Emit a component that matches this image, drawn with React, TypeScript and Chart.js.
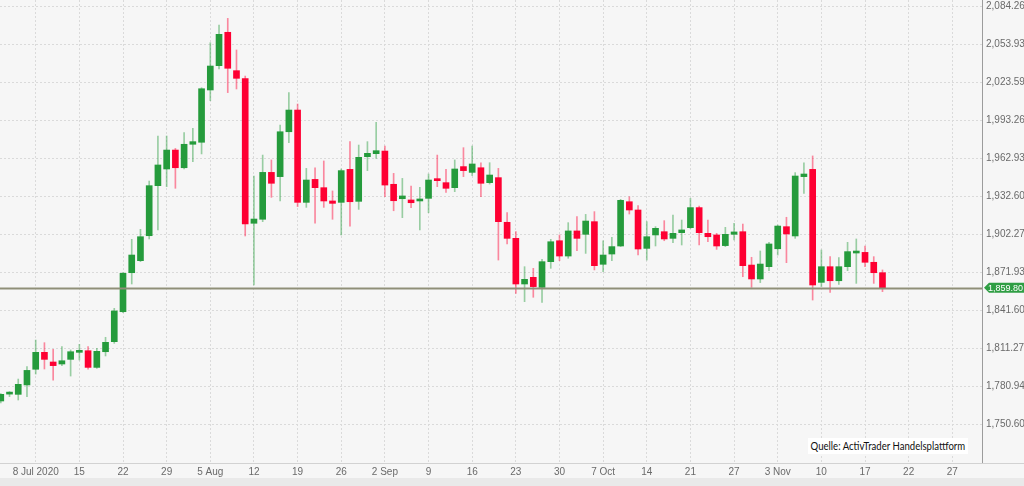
import React, { useEffect, useRef } from 'react';
import { Chart, registerables } from 'chart.js';

Chart.register(...registerables);

// Trading-day index of the first labelled tick (8 Jul 2020) and spacing of weekly ticks
const tickLabels = ['8 Jul 2020', '15', '22', '29', '5 Aug', '12', '19', '26', '2 Sep', '9', '16', '23', '30', '7 Oct', '14', '21', '27', '3 Nov', '10', '17', '22', '27'];
const firstTickIndex = 4;
const tickStep = 5;

const yTicks = [2084.26, 2053.93, 2023.59, 1993.26, 1962.93, 1932.6, 1902.27, 1871.93, 1841.6, 1811.27, 1780.94, 1750.6];

const opens = [
  1769.5, 1775.0, 1774.8, 1782.3, 1794.8, 1808.3, 1800.6, 1799.0, 1802.7, 1808.3,
  1809.6, 1796.3, 1808.8, 1816.8, 1840.7, 1871.8, 1881.4, 1901.3, 1941.2, 1954.5,
  1969.6, 1955.5, 1974.2, 1975.8, 2017.5, 2036.9, 2063.5, 2032.9, 2026.5, 1911.2,
  1914.4, 1951.8, 1948.4, 1984.2, 2001.5, 1927.9, 1946.2, 1939.6, 1929.0, 1927.9,
  1954.2, 1928.7, 1964.3, 1966.7, 1968.8, 1942.3, 1930.8, 1929.8, 1929.0, 1931.1,
  1946.2, 1943.6, 1939.6, 1956.4, 1951.8, 1955.5, 1943.6, 1947.6, 1912.0, 1899.2,
  1862.8, 1868.1, 1860.1, 1880.6, 1897.3, 1885.1, 1905.1, 1902.4, 1912.5, 1878.5,
  1886.7, 1893.1, 1928.4, 1921.8, 1891.2, 1901.9, 1904.5, 1899.2, 1903.7, 1907.7,
  1923.7, 1903.2, 1901.9, 1893.4, 1902.4, 1904.5, 1877.9, 1866.8, 1876.6, 1890.9,
  1908.5, 1901.1, 1948.4, 1954.2, 1864.1, 1876.6, 1865.4, 1876.6, 1887.5, 1888.0,
  1880.1, 1871.8,
];
const highs = [
  1775.5, 1777.0, 1787.0, 1797.0, 1818.1, 1816.0, 1810.7, 1812.8, 1810.2, 1814.7,
  1812.8, 1811.5, 1820.3, 1843.4, 1872.0, 1898.4, 1906.4, 1944.9, 1980.8, 1980.8,
  1970.9, 1983.5, 1986.9, 2019.3, 2055.2, 2069.3, 2074.6, 2049.4, 2028.6, 1948.9,
  1965.6, 1961.7, 1989.6, 2015.4, 2006.3, 1955.0, 1955.5, 1960.9, 1937.0, 1954.5,
  1976.3, 1973.6, 1976.3, 1991.7, 1972.8, 1951.0, 1947.0, 1940.9, 1939.9, 1950.5,
  1965.6, 1954.2, 1961.7, 1971.5, 1972.8, 1959.5, 1959.5, 1955.0, 1919.7, 1904.5,
  1876.6, 1875.3, 1882.5, 1898.4, 1901.9, 1911.7, 1916.5, 1918.3, 1920.5, 1897.3,
  1900.0, 1930.3, 1932.4, 1925.3, 1912.5, 1908.5, 1913.3, 1917.8, 1913.8, 1931.1,
  1925.0, 1913.8, 1903.2, 1908.0, 1911.2, 1910.6, 1884.1, 1889.1, 1896.0, 1909.8,
  1916.0, 1951.6, 1959.5, 1964.9, 1889.9, 1884.6, 1883.8, 1896.0, 1898.7, 1893.1,
  1884.6, 1874.0,
];
const lows = [
  1768.0, 1773.0, 1770.3, 1773.0, 1791.0, 1795.0, 1786.2, 1797.7, 1789.4, 1802.2,
  1794.8, 1795.5, 1805.4, 1815.5, 1840.0, 1862.8, 1880.6, 1898.7, 1905.9, 1940.4,
  1939.1, 1954.5, 1960.3, 1966.5, 2009.0, 2034.2, 2015.4, 2018.3, 1901.1, 1862.0,
  1912.5, 1931.9, 1929.0, 1975.5, 1924.5, 1923.9, 1911.2, 1923.9, 1914.4, 1901.9,
  1909.0, 1922.3, 1953.2, 1963.0, 1932.4, 1921.2, 1915.7, 1923.7, 1905.9, 1919.7,
  1940.4, 1935.9, 1936.4, 1948.4, 1949.2, 1932.4, 1942.5, 1881.9, 1894.7, 1855.3,
  1848.7, 1852.2, 1848.2, 1875.3, 1881.4, 1883.3, 1889.4, 1887.2, 1874.0, 1872.6,
  1881.4, 1892.6, 1918.6, 1885.9, 1881.9, 1893.1, 1897.3, 1895.8, 1893.9, 1907.0,
  1893.9, 1896.5, 1890.4, 1892.6, 1897.9, 1868.6, 1860.1, 1863.9, 1873.4, 1885.9,
  1879.8, 1899.2, 1935.1, 1850.0, 1860.7, 1856.1, 1862.5, 1873.4, 1863.3, 1876.6,
  1863.3, 1856.7,
];
const closes = [
  1774.8, 1776.0, 1782.8, 1793.9, 1808.3, 1802.7, 1797.7, 1801.6, 1808.8, 1809.6,
  1796.3, 1809.1, 1816.3, 1841.3, 1871.3, 1885.9, 1900.5, 1941.2, 1957.7, 1969.6,
  1955.5, 1974.2, 1976.3, 2018.5, 2036.6, 2061.9, 2034.8, 2026.8, 1910.6, 1914.6,
  1951.8, 1943.1, 1984.2, 2001.5, 1927.9, 1945.7, 1939.6, 1929.0, 1927.1, 1953.2,
  1928.4, 1963.8, 1967.0, 1969.1, 1941.7, 1929.2, 1933.0, 1927.6, 1930.3, 1945.7,
  1945.2, 1939.1, 1954.5, 1953.2, 1958.5, 1943.1, 1949.7, 1912.5, 1899.2, 1862.8,
  1866.5, 1860.7, 1880.6, 1896.5, 1885.1, 1905.1, 1899.2, 1913.0, 1877.4, 1885.9,
  1892.6, 1929.5, 1921.8, 1890.7, 1900.5, 1907.2, 1898.7, 1903.2, 1905.9, 1923.7,
  1903.7, 1900.5, 1893.1, 1902.4, 1904.3, 1877.4, 1866.8, 1878.7, 1894.7, 1909.0,
  1902.7, 1948.9, 1950.5, 1862.0, 1876.6, 1865.4, 1876.6, 1888.6, 1888.0, 1880.1,
  1871.8, 1859.8,
];

const UP = '#259b3c';
const DOWN = '#fe0032';
const UP_WICK = 'rgba(37,155,60,0.45)';
const DOWN_WICK = 'rgba(254,0,50,0.45)';
const NARROW = "'Liberation Sans Narrow', 'Liberation Sans', Arial, sans-serif";

const fmt = (v: number) => v.toLocaleString('en-US', { minimumFractionDigits: 2, maximumFractionDigits: 2 });

const decorPlugin = {
  id: 'decor',
  beforeDraw(chart: any) {
    const { ctx, width, height } = chart;
    ctx.save();
    ctx.fillStyle = '#f6f6f6';
    ctx.fillRect(0, 0, width, height);
    ctx.fillStyle = '#e9e9e9';
    ctx.fillRect(0, 478, width, height - 478);
    ctx.restore();
  },
  afterDatasetsDraw(chart: any) {
    const { ctx, chartArea, scales } = chart;
    const last = closes[closes.length - 1];
    const y = Math.round(scales.y.getPixelForValue(last)) + 0.5;
    ctx.save();
    ctx.strokeStyle = '#8f8f78';
    ctx.lineWidth = 2;
    ctx.beginPath();
    ctx.moveTo(chartArea.left, y);
    ctx.lineTo(chartArea.right, y);
    ctx.stroke();
    ctx.restore();
  },
  afterDraw(chart: any) {
    const { ctx, chartArea, scales, width } = chart;
    const last = closes[closes.length - 1];
    const y = scales.y.getPixelForValue(last);
    ctx.save();
    ctx.strokeStyle = '#d2d2d2';
    ctx.lineWidth = 1;
    ctx.beginPath();
    ctx.moveTo(0, chartArea.bottom + 0.5);
    ctx.lineTo(width, chartArea.bottom + 0.5);
    ctx.stroke();
    const x0 = chartArea.right + 2;
    ctx.fillStyle = '#2f9e44';
    ctx.beginPath();
    ctx.moveTo(x0, y);
    ctx.lineTo(x0 + 5, y - 5);
    ctx.lineTo(width, y - 5);
    ctx.lineTo(width, y + 5);
    ctx.lineTo(x0 + 5, y + 5);
    ctx.closePath();
    ctx.fill();
    ctx.fillStyle = '#ffffff';
    ctx.font = `9px ${NARROW}`;
    ctx.textBaseline = 'middle';
    ctx.textAlign = 'left';
    ctx.fillText(fmt(last), x0 + 4, y + 0.5);
    ctx.restore();
  },
};

export default function App() {
  const ref = useRef<HTMLCanvasElement | null>(null);

  useEffect(() => {
    document.body.style.margin = '0';
    const canvas = ref.current;
    if (!canvas) return;
    const idx = opens.map((_, i) => i);
    const isUp = (i: number) => closes[i] >= opens[i];
    const xTickValues = tickLabels.map((_, k) => firstTickIndex + k * tickStep);

    const chart = new Chart(canvas, {
      type: 'bar',
      data: {
        datasets: [
          {
            label: 'body',
            data: idx.map((i) => ({ x: i, y: [opens[i], closes[i]] })) as any,
            backgroundColor: idx.map((i) => (isUp(i) ? UP : DOWN)),
            borderWidth: 0,
            barThickness: 6,
            minBarLength: 2,
            grouped: false,
            order: 0,
          } as any,
          {
            label: 'wick',
            data: idx.map((i) => ({ x: i, y: [lows[i], highs[i]] })) as any,
            backgroundColor: idx.map((i) => (isUp(i) ? UP_WICK : DOWN_WICK)),
            borderWidth: 0,
            barThickness: 1,
            grouped: false,
            order: 1,
          } as any,
        ],
      },
      options: {
        responsive: false,
        animation: false,
        parsing: { xAxisKey: 'x', yAxisKey: 'y' } as any,
        layout: { padding: 0 },
        plugins: { legend: { display: false }, tooltip: { enabled: false } },
        scales: {
          x: {
            type: 'linear',
            min: -0.09,
            max: 112.4,
            offset: false,
            grid: { color: '#dadada', offset: false, drawTicks: false, lineWidth: 1 },
            border: { display: false, dash: [2, 2] },
            afterBuildTicks: (scale: any) => {
              scale.ticks = xTickValues.map((v) => ({ value: v }));
            },
            afterFit: (scale: any) => {
              scale.height = 23;
              scale.paddingLeft = 0;
              scale.paddingRight = 0;
            },
            ticks: {
              autoSkip: false,
              maxRotation: 0,
              padding: 3,
              color: '#6a6a6a',
              font: { family: NARROW, size: 10 },
              callback: (_v: any, i: number) => tickLabels[i],
            },
          },
          y: {
            type: 'linear',
            position: 'right',
            min: 1720.06,
            max: 2089.25,
            grid: { color: '#dadada', drawTicks: false, lineWidth: 1 },
            border: { display: true, color: '#9c9c9c', width: 1, dash: [2, 2] },
            afterBuildTicks: (scale: any) => {
              scale.ticks = yTicks.map((v) => ({ value: v }));
            },
            afterFit: (scale: any) => {
              scale.width = 42;
              scale.paddingTop = 0;
              scale.paddingBottom = 0;
            },
            ticks: {
              padding: 4,
              color: '#6a6a6a',
              font: { family: NARROW, size: 10 },
              callback: (v: any) => fmt(Number(v)),
            },
          },
        },
      } as any,
      plugins: [decorPlugin],
    });
    return () => chart.destroy();
  }, []);

  return (
    <div style={{ position: 'relative', width: 1024, height: 486, overflow: 'hidden' }}>
      <canvas ref={ref} width={1024} height={486} style={{ display: 'block' }} />
      <div
        style={{
          position: 'absolute',
          left: 808,
          top: 438,
          height: 16,
          lineHeight: '16px',
          padding: '0 3px',
          background: '#ffffff',
          color: '#111111',
          fontFamily: 'Lato, sans-serif',
          fontSize: 11,
          whiteSpace: 'nowrap',
          transform: 'scaleX(0.87)',
          transformOrigin: 'left top',
        }}
      >
        Quelle: ActivTrader Handelsplattform
      </div>
    </div>
  );
}
